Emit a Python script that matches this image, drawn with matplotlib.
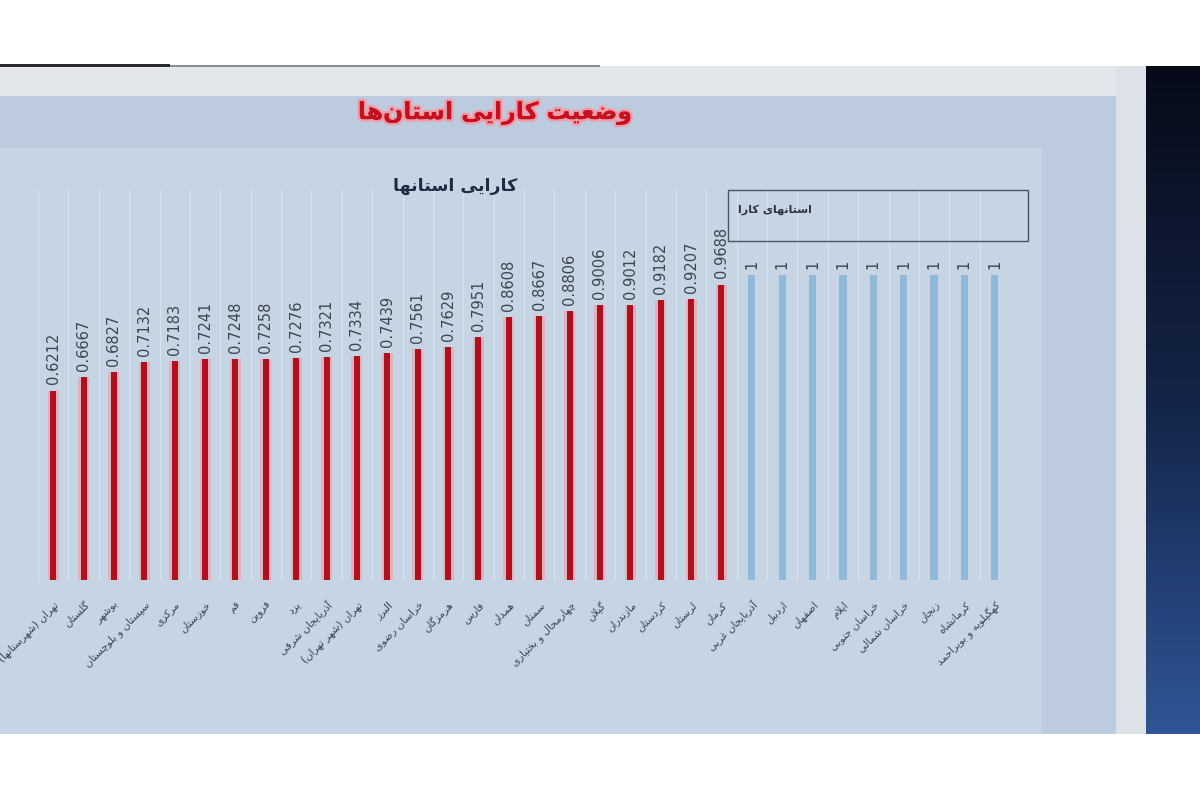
import numpy as np
import matplotlib
matplotlib.use("Agg")
import matplotlib.pyplot as plt
from matplotlib.patches import Rectangle
from matplotlib.colors import LinearSegmentedColormap
import matplotlib.patheffects as pe

# ---------------- data ----------------
provinces = [
    "تهران (شهرستانها)", "گلستان", "بوشهر", "سیستان و بلوچستان", "مرکزی",
    "خوزستان", "قم", "قزوین", "یزد", "آذربایجان شرقی", "تهران (شهر تهران)",
    "البرز", "خراسان رضوی", "هرمزگان", "فارس", "همدان", "سمنان",
    "چهارمحال و بختیاری", "گیلان", "مازندران", "کردستان", "لرستان", "کرمان",
    "آذربایجان غربی", "اردبیل", "اصفهان", "ایلام", "خراسان جنوبی",
    "خراسان شمالی", "زنجان", "کرمانشاه", "کهگیلویه و بویراحمد",
]
efficiency = [
    0.6212, 0.6667, 0.6827, 0.7132, 0.7183, 0.7241, 0.7248, 0.7258, 0.7276,
    0.7321, 0.7334, 0.7439, 0.7561, 0.7629, 0.7951, 0.8608, 0.8667, 0.8806,
    0.9006, 0.9012, 0.9182, 0.9207, 0.9688,
    1, 1, 1, 1, 1, 1, 1, 1, 1,
]
value_labels = [
    "0.6212", "0.6667", "0.6827", "0.7132", "0.7183", "0.7241", "0.7248",
    "0.7258", "0.7276", "0.7321", "0.7334", "0.7439", "0.7561", "0.7629",
    "0.7951", "0.8608", "0.8667", "0.8806", "0.9006", "0.9012", "0.9182",
    "0.9207", "0.9688", "1", "1", "1", "1", "1", "1", "1", "1", "1",
]
page_title = "وضعیت کارایی استان\u200cها"
chart_title = "کارایی استانها"
box_label = "استانهای کارا"

# ---------------- minimal Persian shaping (presentation forms) ----------------
FORMS = {
    'ا': ('\uFE8D', '\uFE8E', None, None),
    'آ': ('\uFE81', '\uFE82', None, None),
    'ب': ('\uFE8F', '\uFE90', '\uFE91', '\uFE92'),
    'پ': ('\uFB56', '\uFB57', '\uFB58', '\uFB59'),
    'ت': ('\uFE95', '\uFE96', '\uFE97', '\uFE98'),
    'ث': ('\uFE99', '\uFE9A', '\uFE9B', '\uFE9C'),
    'ج': ('\uFE9D', '\uFE9E', '\uFE9F', '\uFEA0'),
    'چ': ('\uFB7A', '\uFB7B', '\uFB7C', '\uFB7D'),
    'ح': ('\uFEA1', '\uFEA2', '\uFEA3', '\uFEA4'),
    'خ': ('\uFEA5', '\uFEA6', '\uFEA7', '\uFEA8'),
    'د': ('\uFEA9', '\uFEAA', None, None),
    'ذ': ('\uFEAB', '\uFEAC', None, None),
    'ر': ('\uFEAD', '\uFEAE', None, None),
    'ز': ('\uFEAF', '\uFEB0', None, None),
    'ژ': ('\uFB8A', '\uFB8B', None, None),
    'س': ('\uFEB1', '\uFEB2', '\uFEB3', '\uFEB4'),
    'ش': ('\uFEB5', '\uFEB6', '\uFEB7', '\uFEB8'),
    'ص': ('\uFEB9', '\uFEBA', '\uFEBB', '\uFEBC'),
    'ض': ('\uFEBD', '\uFEBE', '\uFEBF', '\uFEC0'),
    'ط': ('\uFEC1', '\uFEC2', '\uFEC3', '\uFEC4'),
    'ظ': ('\uFEC5', '\uFEC6', '\uFEC7', '\uFEC8'),
    'ع': ('\uFEC9', '\uFECA', '\uFECB', '\uFECC'),
    'غ': ('\uFECD', '\uFECE', '\uFECF', '\uFED0'),
    'ف': ('\uFED1', '\uFED2', '\uFED3', '\uFED4'),
    'ق': ('\uFED5', '\uFED6', '\uFED7', '\uFED8'),
    'ک': ('\uFB8E', '\uFB8F', '\uFB90', '\uFB91'),
    'گ': ('\uFB92', '\uFB93', '\uFB94', '\uFB95'),
    'ل': ('\uFEDD', '\uFEDE', '\uFEDF', '\uFEE0'),
    'م': ('\uFEE1', '\uFEE2', '\uFEE3', '\uFEE4'),
    'ن': ('\uFEE5', '\uFEE6', '\uFEE7', '\uFEE8'),
    'و': ('\uFEED', '\uFEEE', None, None),
    'ه': ('\uFEE9', '\uFEEA', '\uFEEB', '\uFEEC'),
    'ی': ('\uFBFC', '\uFBFD', '\uFBFE', '\uFBFF'),
}
LAM_ALEF = {'ا': ('\uFEFB', '\uFEFC'), 'آ': ('\uFEF5', '\uFEF6')}


def shape(s):
    chars = list(s)
    n = len(chars)

    def joins_next(c):
        return c in FORMS and FORMS[c][2] is not None

    res = []
    i = 0
    while i < n:
        c = chars[i]
        if c not in FORMS:
            if c != '\u200c':
                res.append(c)
            i += 1
            continue
        prev = chars[i - 1] if i > 0 else None
        cp = prev is not None and joins_next(prev)
        if c == 'ل' and i + 1 < n and chars[i + 1] in LAM_ALEF:
            lig = LAM_ALEF[chars[i + 1]]
            res.append(lig[1] if cp else lig[0])
            i += 2
            continue
        nxt = chars[i + 1] if i + 1 < n else None
        cn = joins_next(c) and nxt is not None and nxt in FORMS
        f = FORMS[c]
        if cp and cn:
            g = f[3]
        elif cp:
            g = f[1]
        elif cn:
            g = f[2]
        else:
            g = f[0]
        res.append(g)
        i += 1
    vis = ''.join(reversed(res))
    return vis.translate(str.maketrans('()', ')('))


plt.rcParams['font.family'] = ['DejaVu Sans']

W, H = 1200, 799
fig = plt.figure(figsize=(W / 100, H / 100), dpi=100)
fig.patch.set_facecolor('white')


def fr(x0, y0, x1, y1):
    """pixel box (top-left origin) -> figure fraction rect"""
    return (x0 / W, 1 - y1 / H, (x1 - x0) / W, (y1 - y0) / H)


def add_rect(x0, y0, x1, y1, color, z=0, **kw):
    l, b, w, h = fr(x0, y0, x1, y1)
    fig.add_artist(Rectangle((l, b), w, h, transform=fig.transFigure,
                             facecolor=color, edgecolor='none', zorder=z, **kw))


# photo framing: screen background
add_rect(0, 66, 1116, 96, '#e3e7ec', z=0)
add_rect(0, 96, 1116, 734, '#bccbdd', z=0)
add_rect(0, 148, 1042, 734, '#c6d4e4', z=0)
add_rect(1116, 66, 1146, 734, '#dde2e8', z=0)
add_rect(0, 64, 170, 67, '#2a2a2a', z=0)
add_rect(170, 65, 600, 67, '#8a8d92', z=0)

# dark bezel on the right with gradient
gax = fig.add_axes(fr(1146, 66, 1200, 734))
grad = np.linspace(0, 1, 200).reshape(-1, 1)
cm = LinearSegmentedColormap.from_list('bz', ['#070b18', '#142448', '#2f5597'])
gax.imshow(grad, aspect='auto', cmap=cm, extent=(0, 1, 0, 1), origin='upper')
gax.axis('off')

# ---------------- chart ----------------
ax = fig.add_axes(fr(38, 190, 1010, 580))
ax.set_facecolor('none')
n = len(provinces)
x = np.arange(n)
vals = np.array(efficiency, dtype=float)
is_one = vals >= 1
red = '#b0101e'
blue = '#8fb8d9'

for xi in np.arange(-0.5, n, 1.0):
    ax.axvline(xi, color='#d8e3ef', lw=0.9, zorder=0)

ax.bar(x[~is_one], vals[~is_one], width=0.36, color='#f29aa6', alpha=0.6,
       zorder=1)
ax.bar(x[~is_one], vals[~is_one], width=0.2, color=red, zorder=2)
ax.bar(x[is_one], vals[is_one], width=0.24, color=blue, zorder=2)

for xi, v, lab in zip(x, vals, value_labels):
    ax.text(xi, v + 0.02, lab, rotation=90, ha='center', va='bottom',
            fontsize=10.5, color='#3c4650')

ax.set_xlim(-0.5, n - 0.5)
ax.set_ylim(0, 390 / 305)
ax.set_yticks([])
ax.set_xticks(x)
ax.set_xticklabels([shape(p) for p in provinces], rotation=45, ha='right',
                   rotation_mode='anchor', fontsize=7.5, color='#3a4250')
ax.tick_params(axis='x', length=0, pad=14)
for s in ax.spines.values():
    s.set_visible(False)

# chart title
fig.text(455 / W, 1 - 186 / H, shape(chart_title), ha='center', va='center',
         fontsize=12.5, fontweight='bold', color='#1f2a44')

# page title
fig.text(495 / W, 1 - 113 / H, shape(page_title), ha='center', va='center',
         fontsize=17, fontweight='bold', color='#c4101f',
         path_effects=[pe.withStroke(linewidth=3.5, foreground='#f29aa6'),
                       pe.Normal()])

# box "efficient provinces"
l, b, w, h = fr(728, 190, 1028, 241)
fig.add_artist(Rectangle((l, b), w, h, transform=fig.transFigure,
                         facecolor='none', edgecolor='#4a5460', lw=1.0, zorder=5))
fig.text(738 / W, 1 - 210 / H, shape(box_label), ha='left', va='center',
         fontsize=8, fontweight='bold', color='#2e3440')

fig.savefig('out.png', dpi=100, facecolor=fig.get_facecolor())
